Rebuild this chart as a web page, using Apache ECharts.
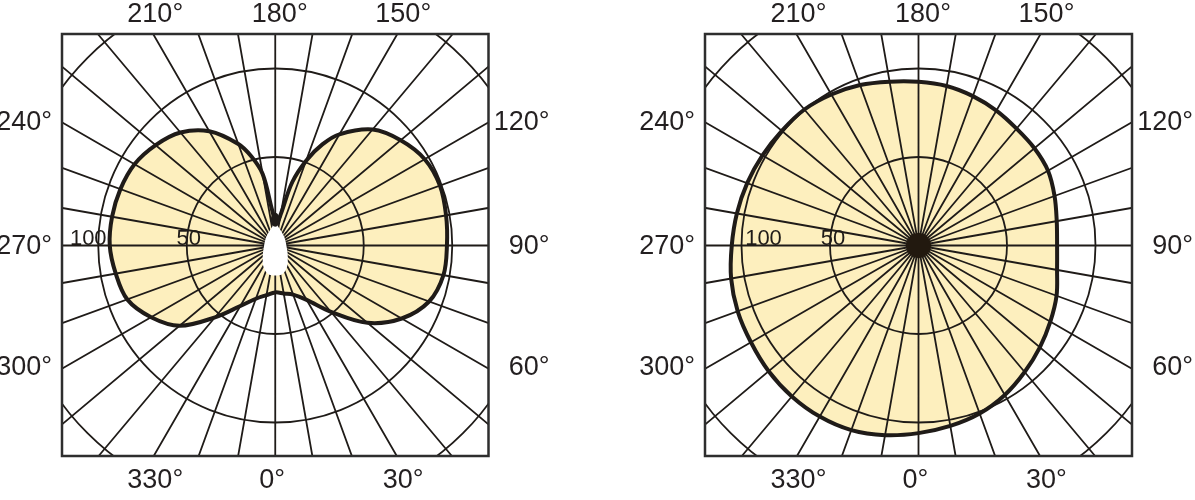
<!DOCTYPE html>
<html>
<head>
<meta charset="utf-8">
<script src="https://cdn.jsdelivr.net/npm/echarts@6/dist/echarts.min.js"></script>
<style>
  html, body { margin: 0; padding: 0; background: #fff; }
  #main { width: 1195px; height: 500px; }
</style>
</head>
<body>
<div id="main"></div>
<script>
// angle labels printed round each diagram, and the labelled rings
var angleTicks = [0, 30, 60, 90, 120, 150, 180, 210, 240, 270, 300, 330];
var ringValues = [50, 100];

// left diagram: batwing curve (value, angle in degrees)
var leftAngles = [0, 10, 20, 30, 40, 50, 60, 70, 80, 90, 100, 110, 120, 130, 140, 150, 155, 160, 165, 170, 175,
  180, 185, 190, 195, 200, 210, 220, 230, 240, 250, 260, 270, 280, 290, 300, 310, 320, 330, 340, 350];
var leftValues = [26.5, 27.5, 29.5, 35.5, 49, 68, 82.5, 92.5, 96.5, 97, 98, 99, 97.5, 92.5, 85.5, 72.5, 63, 51, 37, 18, 13,
  14, 20, 41, 52, 61, 74.5, 83.3, 88.2, 91.8, 93.1, 93.6, 93.5, 91.5, 89, 81, 70.5, 53, 39.5, 32, 28.5];

// unlit hole round the centre of the left diagram
var holeAngles = [0, 15, 30, 45, 60, 90, 120, 140, 160, 180, 200, 220, 240, 270, 300, 315, 330, 345];
var holeValues = [17, 16.5, 13.5, 10, 8, 6.3, 6.5, 7.3, 9, 12, 9, 7.3, 6.5, 6.3, 8, 10, 13.5, 16.5];

// right diagram
var rightAngles = [0, 10, 20, 30, 40, 50, 60, 70, 80, 90, 100, 110, 120, 130, 140, 150, 160, 170,
  180, 190, 200, 210, 220, 230, 240, 250, 260, 270, 280, 290, 300, 310, 320, 330, 340, 350];
var rightValues = [106, 103.5, 101, 97.5, 93.3, 89.5, 86, 83, 79.5, 78.3, 79.3, 81.8, 84.5, 85.5, 86.2, 88, 89.8, 91.5,
  92.5, 94, 96.5, 98.5, 100.3, 100.8, 101.8, 103, 104.2, 105.5, 107.5, 108.7, 109.3, 110.5, 111.3, 111.6, 111, 108.8];

function pairs(values, angles) {
  return values.map(function (v, i) { return [v, angles[i]]; });
}

var ink = '#1f1b18';
var fill = '#fdefbe';
var cy = 245.5;
var boxTop = 34, boxBottom = 456;
var boxes = [
  { cx: 275.25, x0: 62, x1: 488.5 },
  { cx: 918.5, x0: 705, x1: 1132 }
];
var rMax = 170;
var pxPerUnit = 1.77;

function polarAxes(i) {
  return {
    angle: {
      polarIndex: i, type: 'value', min: 0, max: 360, interval: 10,
      startAngle: 270, clockwise: false, z: 3,
      axisLine: { show: false }, axisTick: { show: false }, axisLabel: { show: false },
      splitLine: { show: true, lineStyle: { color: ink, width: 1.8 } }
    },
    radius: {
      polarIndex: i, type: 'value', min: 0, max: rMax, interval: 50, z: 3,
      axisLine: { show: false }, axisTick: { show: false }, axisLabel: { show: false },
      splitLine: { show: true, lineStyle: { color: ink, width: 1.8 } }
    }
  };
}

// closed smooth curve through the polar points; drawn once, from the first item
function curve(name, i, values, angles, style, z) {
  return {
    name: name, type: 'custom', coordinateSystem: 'polar', polarIndex: i, z: z, silent: true,
    data: pairs(values, angles),
    renderItem: function (params, api) {
      if (params.dataIndex !== 0) return;
      var pts = values.map(function (v, k) { return api.coord([v, angles[k]]); });
      return { type: 'polygon', shape: { points: pts, smooth: 0.35 }, style: style };
    }
  };
}

function ringLabels(i, offsets) {
  return {
    type: 'scatter', coordinateSystem: 'polar', polarIndex: i, z: 6,
    symbolSize: 0, silent: true,
    itemStyle: { opacity: 1 },
    data: ringValues.map(function (v, k) {
      return { value: [v, 270], label: { offset: offsets[k] } };
    }),
    label: {
      show: true, position: 'top', distance: 0, opacity: 1,
      formatter: function (p) { return p.value[0]; },
      fontFamily: 'Liberation Sans', fontSize: 22, color: ink
    }
  };
}

// angle label spots, relative to each diagram
function labelSpot(a, b) {
  var rowX = { 0: -3, 30: 128, 330: -120, 180: 4.5, 150: 128, 210: -120 };
  var sideY = { 60: 122.5, 90: 1, 120: -122.5, 300: 122.5, 270: 1, 240: -122.5 };
  if (a === 0 || a === 30 || a === 330) return { x: b.cx + rowX[a], y: cy + 235.5, align: 'center' };
  if (a === 150 || a === 180 || a === 210) return { x: b.cx + rowX[a], y: cy - 230.5, align: 'center' };
  if (a < 180) return { x: b.x1 + 61, y: cy + sideY[a], align: 'right' };
  return { x: b.x0 - 10, y: cy + sideY[a], align: 'right' };
}

var graphics = [
  // white mask outside the two frames
  { type: 'rect', z: 90, shape: { x: 0, y: 0, width: 1195, height: boxTop }, style: { fill: '#fff' } },
  { type: 'rect', z: 90, shape: { x: 0, y: boxBottom, width: 1195, height: 500 - boxBottom }, style: { fill: '#fff' } },
  { type: 'rect', z: 90, shape: { x: 0, y: 0, width: boxes[0].x0, height: 500 }, style: { fill: '#fff' } },
  { type: 'rect', z: 90, shape: { x: boxes[0].x1, y: 0, width: boxes[1].x0 - boxes[0].x1, height: 500 }, style: { fill: '#fff' } },
  { type: 'rect', z: 90, shape: { x: boxes[1].x1, y: 0, width: 1195 - boxes[1].x1, height: 500 }, style: { fill: '#fff' } }
];
boxes.forEach(function (b) {
  graphics.push({
    type: 'rect', z: 95,
    shape: { x: b.x0, y: boxTop, width: b.x1 - b.x0, height: boxBottom - boxTop },
    style: { fill: null, stroke: '#2e2e2e', lineWidth: 2.5 }
  });
  angleTicks.forEach(function (a) {
    var s = labelSpot(a, b);
    graphics.push({
      type: 'text', z: 99, x: s.x, y: s.y,
      style: {
        text: a + '°', fill: '#231f20', align: s.align, verticalAlign: 'middle',
        font: '27px "Liberation Sans", Arial, sans-serif'
      }
    });
  });
});

var a0 = polarAxes(0), a1 = polarAxes(1);
var lobeStyle = { fill: fill, stroke: ink, lineWidth: 4, lineJoin: 'round' };
var option = {
  animation: false,
  backgroundColor: '#fff',
  polar: [
    { center: [boxes[0].cx, cy], radius: rMax * pxPerUnit },
    { center: [boxes[1].cx, cy], radius: rMax * pxPerUnit }
  ],
  angleAxis: [a0.angle, a1.angle],
  radiusAxis: [a0.radius, a1.radius],
  series: [
    curve('left', 0, leftValues, leftAngles, lobeStyle, 2),
    curve('hole', 0, holeValues, holeAngles, { fill: '#fff', stroke: null }, 4),
    {
      name: 'knot', type: 'scatter', coordinateSystem: 'polar', polarIndex: 0, z: 5,
      data: [[14.5, 180]], symbol: 'circle', symbolSize: [9, 14],
      itemStyle: { color: ink, opacity: 1 }
    },
    curve('right', 1, rightValues, rightAngles, lobeStyle, 2),
    {
      name: 'dot', type: 'scatter', coordinateSystem: 'polar', polarIndex: 1, z: 5,
      data: [[0, 0]], symbol: 'circle', symbolSize: 25,
      itemStyle: { color: '#22190f', opacity: 1 }
    },
    ringLabels(0, [[2, 4], [-10, 4]]),
    ringLabels(1, [[3, 4], [22, 4]])
  ],
  graphic: graphics
};

var myChart = echarts.init(document.getElementById('main'));
myChart.setOption(option);
</script>
</body>
</html>
